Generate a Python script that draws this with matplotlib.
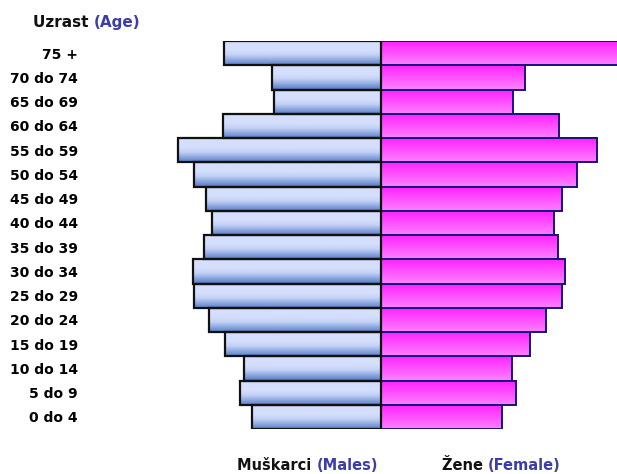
import numpy as np
import matplotlib
matplotlib.use("Agg")
import matplotlib.pyplot as plt
from matplotlib.colors import LinearSegmentedColormap
from matplotlib.patches import Rectangle

# ---- data (bottom to top) ----
age_groups = ["0 do 4", "5 do 9", "10 do 14", "15 do 19", "20 do 24", "25 do 29",
              "30 do 34", "35 do 39", "40 do 44", "45 do 49", "50 do 54", "55 do 59",
              "60 do 64", "65 do 69", "70 do 74", "75 +"]
males = [129, 141, 137, 156, 172, 187, 188, 177, 169, 175, 187, 203, 158, 107, 109, 157]
females = [121, 135, 131, 149, 165, 181, 184, 177, 173, 181, 196, 216, 178, 132, 144, 250]

title_main = "Uzrast "
title_sub = "(Age)"
male_main, male_sub = "Muškarci ", "(Males)"
female_main, female_sub = "Žene ", "(Female)"

W, H = 617, 474
fig = plt.figure(figsize=(W / 100, H / 100), dpi=100)
ax_left_px, ax_right_px = 85, 617
ax_top_px, ax_bot_px = 41, 429
ax = fig.add_axes([ax_left_px / W, (H - ax_bot_px) / H,
                   (ax_right_px - ax_left_px) / W, (ax_bot_px - ax_top_px) / H])

center_px = 381

male_cmap = LinearSegmentedColormap.from_list(
    "m", [(0.0, "#5a7ec5"), (0.15, "#829fdb"), (0.4, "#c3d1f5"), (0.6, "#d5dffd"), (1.0, "#d5dffd")])
female_cmap = LinearSegmentedColormap.from_list(
    "f", [(0.0, "#ff80ff"), (1.0, "#ff1eff")])
grad = np.linspace(0, 1, 64).reshape(-1, 1)

h = 1.0
for i, (m, f) in enumerate(zip(males, females)):
    y0, y1 = i - h / 2, i + h / 2
    ax.imshow(grad, cmap=male_cmap, origin="lower", aspect="auto",
              extent=(-m, 0, y0, y1), interpolation="bilinear", zorder=1)
    ax.imshow(grad, cmap=female_cmap, origin="lower", aspect="auto",
              extent=(0, f, y0, y1), interpolation="bilinear", zorder=1)
    ax.add_patch(Rectangle((-m, y0), m, h, fill=False, edgecolor="#111111", lw=1.6, zorder=3))
    ax.add_patch(Rectangle((0, y0), f, h, fill=False, edgecolor="#14147e", lw=1.4, zorder=2))

ax.set_xlim(-(center_px - ax_left_px), ax_right_px - center_px)
ax.set_ylim(-0.5, len(age_groups) - 0.5)
ax.set_yticks(range(len(age_groups)))
ax.set_yticklabels(age_groups, fontsize=10, fontweight="bold", family="DejaVu Sans")
ax.tick_params(axis="y", length=0, pad=5)
ax.set_xticks([])
for s in ax.spines.values():
    s.set_visible(False)

sub_color = "#3d3da8"

def two_part(x_px, y_px, a, b, size):
    t = fig.text(x_px / W, (H - y_px) / H, a, fontsize=size, fontweight="bold",
                 color="#111111", va="baseline", ha="left")
    fig.canvas.draw()
    ax.annotate(b, xy=(1, 0), xycoords=t, va="bottom", ha="left",
                fontsize=size, fontweight="bold", color=sub_color,
                annotation_clip=False)

two_part(33, 27, title_main, title_sub, 11)
two_part(237, 470, male_main, male_sub, 10.5)
two_part(442, 470, female_main, female_sub, 10.5)

fig.savefig("out.png", dpi=100)
